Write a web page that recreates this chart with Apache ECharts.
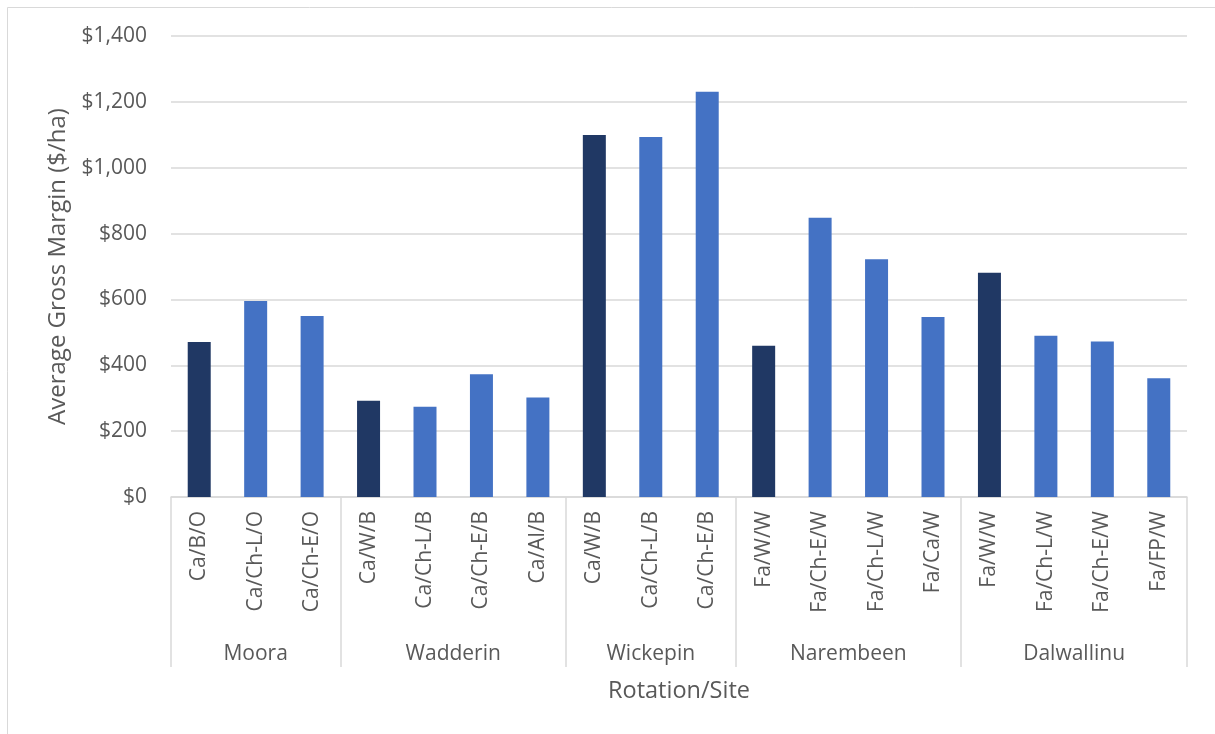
<!DOCTYPE html>
<html>
<head>
<meta charset="utf-8">
<title>Average Gross Margin by Rotation and Site</title>
<script src="https://cdn.jsdelivr.net/npm/echarts@6/dist/echarts.min.js"></script>
<style>
  html, body { margin: 0; padding: 0; background: #fff; }
  #chart { width: 1215px; height: 734px; }
</style>
</head>
<body>
<div id="chart"></div>
<script>
// Sites and the number of rotations trialled at each
const sites = ['Moora', 'Wadderin', 'Wickepin', 'Narembeen', 'Dalwallinu'];
const siteSizes = [3, 4, 3, 4, 4];

// Rotations, in site order
const rotations = [
  'Ca/B/O', 'Ca/Ch-L/O', 'Ca/Ch-E/O',
  'Ca/W/B', 'Ca/Ch-L/B', 'Ca/Ch-E/B', 'Ca/Al/B',
  'Ca/W/B', 'Ca/Ch-L/B', 'Ca/Ch-E/B',
  'Fa/W/W', 'Fa/Ch-E/W', 'Fa/Ch-L/W', 'Fa/Ca/W',
  'Fa/W/W', 'Fa/Ch-L/W', 'Fa/Ch-E/W', 'Fa/FP/W'
];

// Average gross margin ($/ha)
const grossMargin = [
  471, 595, 550,
  292, 274, 373, 302,
  1099, 1093, 1231,
  459, 848, 722, 547,
  681, 490, 472, 361
];

// Value axis ticks
const yTicks = [0, 200, 400, 600, 800, 1000, 1200, 1400];

const FONT = '"Open Sans", sans-serif';
const TEXT = '#595959';
const GRID = '#d9d9d9';
const DARK = '#203864';
const BLUE = '#4472C4';

// Boundaries between sites and the centre of each site, in category units
const bounds = [0];
siteSizes.forEach(n => bounds.push(bounds[bounds.length - 1] + n));
const centres = sites.map((s, i) => (bounds[i] + bounds[i + 1]) / 2);
const firstOfSite = new Set(bounds.slice(0, -1));

const fmtMoney = v => '$' + v.toLocaleString('en-US');

const chart = echarts.init(document.getElementById('chart'), null, { renderer: 'canvas' });

chart.setOption({
  backgroundColor: '#fff',
  animation: false,
  textStyle: { fontFamily: FONT },
  graphic: [{
    type: 'rect',
    shape: { x: 7.5, y: 7.5, width: 1220, height: 740 },
    style: { fill: null, stroke: GRID, lineWidth: 1 },
    silent: true
  }],
  grid: { left: 171, right: 28, top: 36, bottom: 237, containLabel: false },
  xAxis: [{
    type: 'category',
    data: rotations,
    boundaryGap: true,
    name: 'Rotation/Site',
    nameLocation: 'middle',
    nameGap: 182,
    nameTextStyle: { color: TEXT, fontSize: 23.5, fontFamily: FONT },
    axisLine: { show: true, lineStyle: { color: GRID, width: 1.5 } },
    axisTick: { show: false },
    axisLabel: {
      interval: 0, rotate: 90, margin: 14,
      color: TEXT, fontSize: 21, fontFamily: FONT
    },
    splitLine: { show: false }
  }, {
    type: 'value',
    min: 0, max: rotations.length,
    position: 'bottom',
    axisLine: { show: false },
    axisTick: {
      show: true, inside: false, length: 170,
      customValues: bounds,
      lineStyle: { color: GRID, width: 1.5 }
    },
    axisLabel: {
      show: true, margin: 147,
      customValues: centres,
      formatter: v => sites[centres.indexOf(v)] || '',
      color: TEXT, fontSize: 21, fontFamily: FONT
    },
    splitLine: { show: false }
  }],
  yAxis: {
    type: 'value',
    min: yTicks[0], max: yTicks[yTicks.length - 1], interval: 200,
    name: 'Average Gross Margin ($/ha)',
    nameLocation: 'middle',
    nameGap: 100,
    nameTextStyle: { color: TEXT, fontSize: 24, fontFamily: FONT },
    axisLine: { show: false },
    axisTick: { show: false },
    axisLabel: { margin: 24, color: TEXT, fontSize: 21, fontFamily: FONT, formatter: fmtMoney },
    splitLine: { show: true, lineStyle: { color: GRID, width: 1.5 } }
  },
  series: [{
    type: 'bar',
    xAxisIndex: 0,
    barWidth: 23,
    data: grossMargin.map((v, i) => ({
      value: v,
      itemStyle: { color: firstOfSite.has(i) ? DARK : BLUE }
    }))
  }]
});
</script>
</body>
</html>
